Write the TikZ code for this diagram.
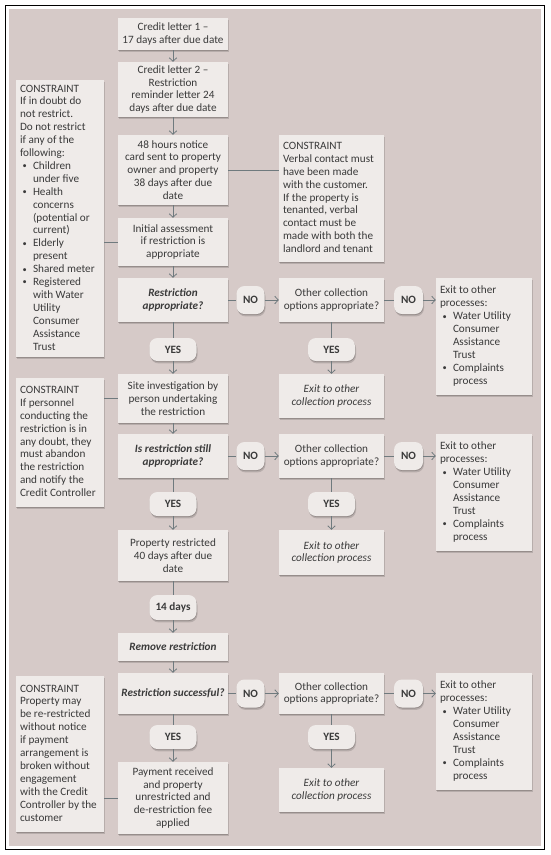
\documentclass[tikz,border=0pt]{standalone}
\usepackage{fontspec}
\setmainfont{Carlito}
\usetikzlibrary{arrows.meta,shadows,calc}
\definecolor{bgpink}{HTML}{D6CAC8}
\definecolor{boxfill}{HTML}{EFEBE9}
\definecolor{linecol}{HTML}{6F7A7E}
\definecolor{txtcol}{HTML}{3A3A3A}
\newcommand\blt{\makebox[13pt][l]{\hspace{2.5pt}\raisebox{0.6pt}{\scalebox{0.75}{\textbullet}}}}
\newcommand\cind{\hspace*{13pt}}
\newcommand\ntext[2]{\makebox[#1][l]{\begin{tabular}{@{}l@{}}#2\end{tabular}}}
\tikzset{
  sz/.style 2 args={minimum width=#1pt, minimum height=#2pt},
  box/.style={fill=boxfill, text=txtcol, align=center, inner sep=0pt,
    font=\fontsize{11.2}{12.9}\selectfont,
    drop shadow={shadow xshift=0.4pt, shadow yshift=-1pt, opacity=0.18, fill=black},
    drop shadow={shadow xshift=1pt, shadow yshift=-2.4pt, opacity=0.14, fill=black}},
  dec/.style={box, font=\bfseries\itshape\fontsize{11.2}{12.9}\selectfont},
  exitc/.style={box, font=\itshape\fontsize{11.2}{12.9}\selectfont},
  pill/.style={box, rounded corners=8pt, font=\bfseries\fontsize{11.2}{12.9}\selectfont},
  note/.style={box, inner xsep=4pt},
  conn/.style={draw=linecol, line width=0.8pt},
  arr/.style={conn, -{Straight Barb[length=3.5pt,width=7.5pt]}}
}
\begin{document}
\begin{tikzpicture}[x=1pt,y=-1pt]
\useasboundingbox (0,0) rectangle (550,855);
\fill[white] (0,0) rectangle (550,855);
\draw[line width=1.3pt] (5.5,5.5) rectangle (544.5,849.5);
\fill[bgpink] (9,9) rectangle (540.5,846);

% main column
\node[box, sz={110}{32}] (c1) at (173,34) {Credit letter 1 –\\17 days after due date};
\node[box, sz={110}{55}] (c2) at (173,89.5) {Credit letter 2 –\\Restriction\\reminder letter 24\\days after due date};
\node[box, sz={110}{70}] (c3) at (173,170) {48 hours notice\\card sent to property\\owner and property\\38 days after due\\date};
\node[box, sz={110}{48}] (c4) at (173,242) {Initial assessment\\if restriction is\\appropriate};
\node[dec, sz={110}{44}] (d1) at (173,300) {Restriction\\appropriate?};
\node[pill, sz={47}{23}] (yes1) at (173,349.5) {YES};
\node[box, sz={110}{49}] (s1) at (173,398.5) {Site investigation by\\person undertaking\\the restriction};
\node[dec, sz={110}{44}] (d2) at (173,456) {Is restriction still\\appropriate?};
\node[pill, sz={47}{24}] (yes4) at (173,504) {YES};
\node[box, sz={110}{51}] (pr) at (173,555.5) {Property restricted\\40 days after due\\date};
\node[pill, sz={47}{25}] (p14) at (173,607.5) {14 days};
\node[dec, sz={110}{28}] (rr) at (173,647) {Remove restriction};
\node[dec, sz={110}{41}] (d3) at (173,693.5) {Restriction successful?};
\node[pill, sz={47}{24}] (yes7) at (173,737) {YES};
\node[box, sz={110}{72}] (pay) at (173,798) {Payment received\\and property\\unrestricted and\\de-restriction fee\\applied};

% NO pills
\node[pill, sz={28}{28}] (no1) at (250.5,300) {NO};
\node[pill, sz={28}{28}] (no4) at (250.5,456) {NO};
\node[pill, sz={28}{28}] (no7) at (250.5,693.5) {NO};

% other collection column
\node[box, sz={105}{44}] (o1) at (331.5,300) {Other collection\\options appropriate?};
\node[box, sz={105}{44}] (o2) at (331.5,456) {Other collection\\options appropriate?};
\node[box, sz={105}{41}] (o3) at (331.5,693.5) {Other collection\\options appropriate?};
\node[pill, sz={47}{23}] (yes2) at (331.5,349.5) {YES};
\node[pill, sz={47}{24}] (yes5) at (331.5,504) {YES};
\node[pill, sz={47}{24}] (yes8) at (331.5,737) {YES};
\node[exitc, sz={105}{44}] (x1) at (331.5,396) {Exit to other\\collection process};
\node[exitc, sz={105}{45}] (x2) at (331.5,552.5) {Exit to other\\collection process};
\node[exitc, sz={105}{44}] (x3) at (331.5,790) {Exit to other\\collection process};

% second NO pills
\node[pill, sz={29}{28}] (no2) at (408.5,300) {NO};
\node[pill, sz={29}{28}] (no5) at (408.5,456) {NO};
\node[pill, sz={29}{28}] (no8) at (408.5,693.5) {NO};

% exit boxes
\node[note, minimum height=117pt] (e1) at (484,336.5) {\ntext{88pt}{Exit to other\\processes:\\\blt Water Utility\\\cind Consumer\\\cind Assistance\\\cind Trust\\\blt Complaints\\\cind process}};
\node[note, minimum height=117pt] (e2) at (484,492.5) {\ntext{88pt}{Exit to other\\processes:\\\blt Water Utility\\\cind Consumer\\\cind Assistance\\\cind Trust\\\blt Complaints\\\cind process}};
\node[note, minimum height=117pt] (e3) at (484,731.5) {\ntext{88pt}{Exit to other\\processes:\\\blt Water Utility\\\cind Consumer\\\cind Assistance\\\cind Trust\\\blt Complaints\\\cind process}};

% constraints
\node[note, minimum height=127pt] (rc) at (331.5,198.5) {\ntext{97pt}{CONSTRAINT\\Verbal contact must\\have been made\\with the customer.\\If the property is\\tenanted, verbal\\contact must be\\made with both the\\landlord and tenant}};
\node[note, minimum height=277pt] (lc1) at (60,218.5) {\ntext{80pt}{CONSTRAINT\\If in doubt do\\not restrict.\\Do not restrict\\if any of the\\following:\\\blt Children\\\cind under five\\\blt Health\\\cind concerns\\\cind (potential or\\\cind current)\\\blt Elderly\\\cind present\\\blt Shared meter\\\blt Registered\\\cind with Water\\\cind Utility\\\cind Consumer\\\cind Assistance\\\cind Trust}};
\node[note, minimum height=129pt] (lc2) at (60,442.5) {\ntext{80pt}{CONSTRAINT\\If personnel\\conducting the\\restriction is in\\any doubt, they\\must abandon\\the restriction\\and notify the\\Credit Controller}};
\node[note, minimum height=156pt] (lc3) at (60,754) {\ntext{80pt}{CONSTRAINT\\Property may\\be re-restricted\\without notice\\if payment\\arrangement is\\broken without\\engagement\\with the Credit\\Controller by the\\customer}};

% connectors main column
\draw[arr] (c1) -- (c2);
\draw[arr] (c2) -- (c3);
\draw[arr] (c3) -- (c4);
\draw[arr] (c4) -- (d1);
\draw[conn] (d1) -- (yes1);
\draw[arr] (yes1) -- (s1);
\draw[arr] (s1) -- (d2);
\draw[conn] (d2) -- (yes4);
\draw[arr] (yes4) -- (pr);
\draw[conn] (pr) -- (p14);
\draw[arr] (p14) -- (rr);
\draw[arr] (rr) -- (d3);
\draw[conn] (d3) -- (yes7);
\draw[arr] (yes7) -- (pay);

% NO branches
\draw[conn] (d1) -- (no1);  \draw[arr] (no1) -- (o1);
\draw[conn] (d2) -- (no4);  \draw[arr] (no4) -- (o2);
\draw[conn] (d3) -- (no7);  \draw[arr] (no7) -- (o3);
\draw[conn] (o1) -- (no2);  \draw[arr] (no2) -- (no2 -| e1.west);
\draw[conn] (o2) -- (no5);  \draw[arr] (no5) -- (no5 -| e2.west);
\draw[conn] (o3) -- (no8);  \draw[arr] (no8) -- (no8 -| e3.west);

% YES branches of other collection
\draw[conn] (o1) -- (yes2);  \draw[arr] (yes2) -- (x1);
\draw[conn] (o2) -- (yes5);  \draw[arr] (yes5) -- (x2);
\draw[conn] (o3) -- (yes8);  \draw[arr] (yes8) -- (x3);

% constraint links
\draw[conn] (c3) -- (c3 -| rc.west);
\draw[conn] (c4) -- (c4 -| lc1.east);
\draw[conn] (s1) -- (s1 -| lc2.east);
\draw[conn] (pay) -- (pay -| lc3.east);
\end{tikzpicture}
\end{document}
